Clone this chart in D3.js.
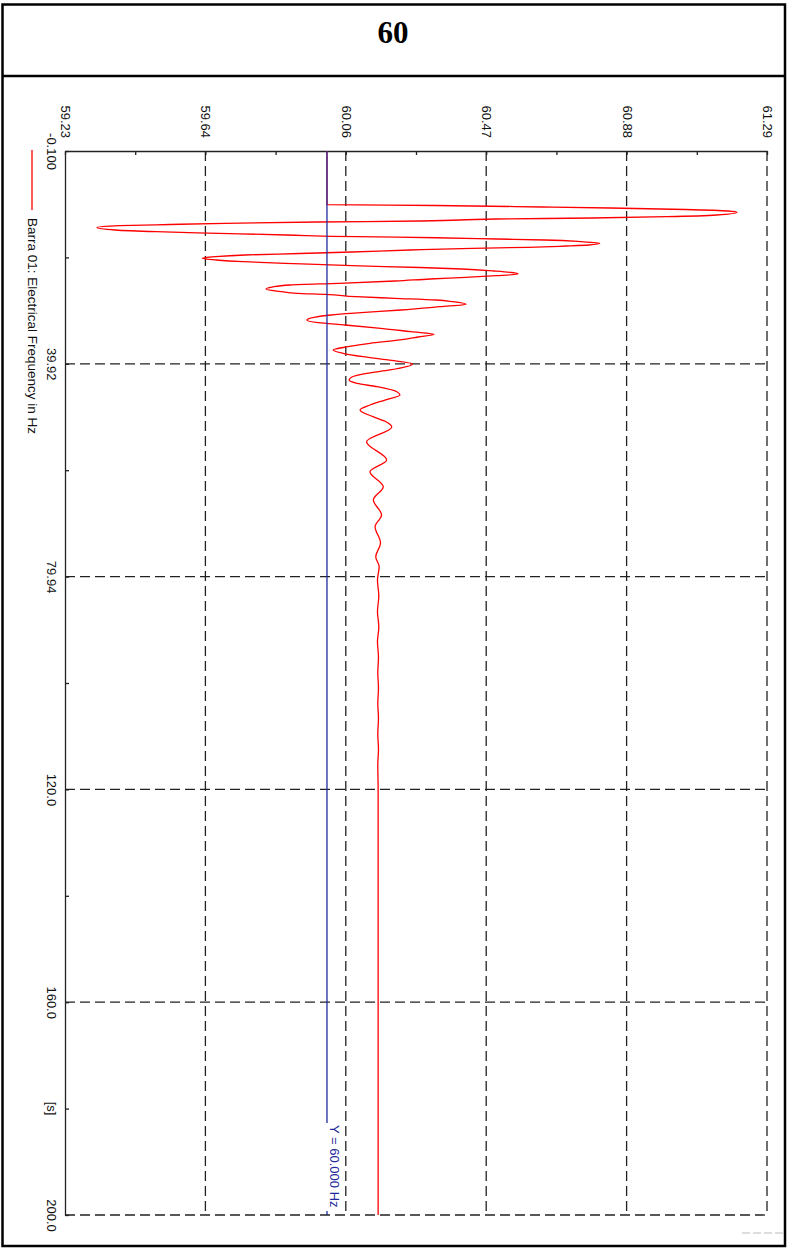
<!DOCTYPE html>
<html>
<head>
<meta charset="utf-8">
<script src="https://cdn.jsdelivr.net/npm/d3@7"></script>
<style>
  html, body { margin: 0; padding: 0; background: #fff; }
  svg { display: block; }
  text { font-family: Arial, "Liberation Sans", Helvetica, sans-serif; }
</style>
</head>
<body>
<svg id="chart" width="787" height="1249"></svg>
<script>
// Simulation time [s]
const times = [
  -0.1, 10.0, 10.15, 10.43, 10.62, 10.90, 11.18, 11.43, 11.94, 12.26, 12.50, 12.69,
  13.06, 13.25, 13.50, 13.72, 13.95, 14.29, 14.76, 15.08, 15.38, 15.70, 16.02, 16.21,
  16.45, 16.64, 16.96, 17.26, 17.58, 17.77, 18.01, 18.20, 18.52, 18.89, 19.18, 19.46,
  19.78, 20.08, 20.40, 20.72, 21.02, 21.47, 21.81, 22.09, 22.47, 22.75, 23.03, 23.35,
  23.65, 23.97, 24.35, 24.78, 25.10, 25.48, 25.85, 26.36, 26.66, 26.85, 27.30, 27.60,
  27.92, 28.24, 28.73, 29.18, 29.80, 30.31, 30.74, 31.17, 31.68, 32.19, 32.62, 33.24,
  33.88, 34.37, 34.88, 35.44, 36.06, 36.70, 37.32, 37.94, 38.58, 39.20, 39.96, 41.08,
  41.71, 42.40, 42.97, 43.59, 44.23, 45.17, 45.79, 46.73, 47.67, 48.61, 49.87, 50.81,
  51.80, 54.57, 58.01, 60.21, 63.03, 65.53, 68.35, 70.55, 73.62, 76.19, 78.08, 80.60,
  83.6, 86.5, 89.4, 92.2, 95.1, 98.0, 100.9, 103.8, 106.6, 109.5, 112.4, 115.3,
  120.0, 200.0
];

// Barra 01: electrical frequency [Hz]
const frequency = [
  60.000, 60.000, 60.317, 60.633, 60.830, 61.050, 61.176, 61.202, 61.143, 60.997, 60.777, 60.498,
  60.273, 59.971, 59.701, 59.540, 59.393, 59.326, 59.379, 59.499, 59.683, 59.880, 60.088, 60.320,
  60.498, 60.639, 60.748, 60.800, 60.768, 60.701, 60.589, 60.425, 60.243, 60.073, 59.921, 59.760,
  59.672, 59.634, 59.675, 59.754, 59.877, 60.073, 60.273, 60.396, 60.490, 60.542, 60.560, 60.496,
  60.408, 60.302, 60.199, 60.035, 59.892, 59.839, 59.821, 59.868, 59.912, 59.994, 60.085, 60.199,
  60.320, 60.369, 60.408, 60.331, 60.217, 60.100, 60.012, 59.962, 59.941, 59.974, 60.053, 60.158,
  60.246, 60.314, 60.267, 60.214, 60.126, 60.062, 60.018, 60.047, 60.106, 60.179, 60.251, 60.185,
  60.117, 60.073, 60.065, 60.088, 60.147, 60.205, 60.214, 60.170, 60.126, 60.097, 60.135, 60.173,
  60.190, 60.116, 60.175, 60.126, 60.165, 60.136, 60.160, 60.141, 60.157, 60.143, 60.153, 60.148,
  60.152, 60.148, 60.152, 60.148, 60.151, 60.149, 60.151, 60.149, 60.151, 60.149, 60.151, 60.149,
  60.150, 60.150
];

// Reference level
const refFrequency = 60.000;
const refLabel = "Y = 60.000 Hz";

// Frequency axis (drawn across the top)
const freqDomain = [59.232, 61.29];
const freqTicks  = [59.232, 59.6436, 60.0552, 60.4668, 60.8784, 61.29];
const freqLabels = ["59.23", "59.64", "60.06", "60.47", "60.88", "61.29"];

// Time axis (drawn down the left side)
const timeDomain = [-0.1, 200.0];
const timeTicks  = [-0.1, 39.92, 79.94, 119.96, 159.98, 200.0];
const timeLabels = ["-0.100", "39.92", "79.94", "120.0", "160.0", "200.0"];
const timeUnit   = "[s]";

const title = "60";
const legendLabel = "Barra 01: Electrical Frequency in Hz";

// ---------------------------------------------------------------
const svg = d3.select("#chart");
const W = 787, H = 1249;
const plot = { left: 65, top: 151, right: 767, bottom: 1215 };

const x = d3.scaleLinear().domain(freqDomain).range([plot.left, plot.right]);
const y = d3.scaleLinear().domain(timeDomain).range([plot.top, plot.bottom]);

const mid = arr => arr.slice(1).map((v, i) => (v + arr[i]) / 2);
const freqMinor = mid(freqTicks);
const timeMinor = mid(timeTicks);

// Page frame and title box
svg.append("rect")
  .attr("x", 2.5).attr("y", 4.5).attr("width", 782.5).attr("height", 1241.5)
  .attr("fill", "none").attr("stroke", "#000").attr("stroke-width", 2.5);
svg.append("line")
  .attr("x1", 2.5).attr("x2", 785).attr("y1", 76).attr("y2", 76)
  .attr("stroke", "#000").attr("stroke-width", 2.5);
svg.append("text")
  .attr("x", 393).attr("y", 43)
  .attr("text-anchor", "middle")
  .style("font-family", '"Times New Roman", "Liberation Serif", serif')
  .style("font-weight", "bold")
  .style("font-size", "31px")
  .text(title);

// Dashed grid
const gridColor = "#222";
const grid = svg.append("g")
  .attr("stroke", gridColor).attr("stroke-width", 1.3)
  .attr("stroke-dasharray", "10,5").attr("fill", "none");
grid.selectAll("line.v").data(freqTicks.slice(1)).join("line")
  .attr("class", "v")
  .attr("x1", d => x(d)).attr("x2", d => x(d))
  .attr("y1", plot.top).attr("y2", plot.bottom);
grid.selectAll("line.h").data(timeTicks.slice(1)).join("line")
  .attr("class", "h")
  .attr("x1", plot.left).attr("x2", plot.right)
  .attr("y1", d => y(d)).attr("y2", d => y(d));

// Axes
const styleAxis = g => {
  g.select(".domain").attr("stroke", "#222").attr("stroke-width", 1.3);
  g.selectAll(".tick line").attr("stroke", "#222").attr("stroke-width", 1.3);
};

const topAxis = svg.append("g")
  .attr("transform", `translate(0,${plot.top})`)
  .call(d3.axisTop(x).tickValues(freqTicks).tickSizeInner(-4).tickSizeOuter(0)
        .tickFormat((d, i) => freqLabels[i]))
  .call(styleAxis);
topAxis.selectAll(".tick text")
  .attr("x", null).attr("y", null).attr("dy", null)
  .attr("transform", "translate(0,-13) rotate(90)")
  .attr("text-anchor", "end")
  .attr("dominant-baseline", "central")
  .attr("fill", "#111")
  .style("font-size", "13px");

svg.append("g")
  .attr("transform", `translate(0,${plot.top})`)
  .call(d3.axisTop(x).tickValues(freqMinor).tickSize(-4).tickFormat(""))
  .call(styleAxis)
  .call(g => g.select(".domain").remove());

const leftAxis = svg.append("g")
  .attr("transform", `translate(${plot.left},0)`)
  .call(d3.axisLeft(y).tickValues(timeTicks).tickSizeInner(-4).tickSizeOuter(0)
        .tickFormat((d, i) => timeLabels[i]))
  .call(styleAxis);
leftAxis.selectAll(".tick text")
  .attr("x", null).attr("y", null).attr("dy", null)
  .attr("transform", "translate(-14,0) rotate(90)")
  .attr("text-anchor", "middle")
  .attr("dominant-baseline", "central")
  .attr("fill", "#111")
  .style("font-size", "13px");

svg.append("g")
  .attr("transform", `translate(${plot.left},0)`)
  .call(d3.axisLeft(y).tickValues(timeMinor).tickSize(-4).tickFormat(""))
  .call(styleAxis)
  .call(g => g.select(".domain").remove());

// Unit label next to the 180 s minor tick
svg.append("text")
  .attr("transform", `translate(${plot.left - 14},${y(timeMinor[4])}) rotate(90)`)
  .attr("text-anchor", "middle")
  .attr("dominant-baseline", "central")
  .attr("fill", "#111")
  .style("font-size", "13px")
  .text(timeUnit);

// Frequency trace
const series = times.map((t, i) => ({ t, f: frequency[i] }));
svg.append("path")
  .datum(series)
  .attr("fill", "none")
  .attr("stroke", "#ff0000")
  .attr("stroke-width", 1.3)
  .attr("stroke-linejoin", "round")
  .attr("d", d3.line().x(d => x(d.f)).y(d => y(d.t)).curve(d3.curveMonotoneY));

// Reference line at 60 Hz with its label
svg.append("line")
  .attr("x1", x(refFrequency)).attr("x2", x(refFrequency))
  .attr("y1", y(timeDomain[0])).attr("y2", y(timeDomain[1]))
  .attr("stroke", "#1f2a9c").attr("stroke-width", 1.3);
svg.append("rect")
  .attr("x", x(refFrequency) - 2).attr("y", 1123)
  .attr("width", 17).attr("height", 88)
  .attr("fill", "#fff");
svg.append("text")
  .attr("transform", `translate(${x(refFrequency) + 8},1125) rotate(90)`)
  .attr("text-anchor", "start")
  .attr("dominant-baseline", "central")
  .attr("fill", "#1f2a9c")
  .style("font-size", "13px")
  .text(refLabel);

// Legend
svg.append("line")
  .attr("x1", 32).attr("x2", 32).attr("y1", 150).attr("y2", 210)
  .attr("stroke", "#ff0000").attr("stroke-width", 1.3);
svg.append("text")
  .attr("transform", "translate(32,218) rotate(90)")
  .attr("text-anchor", "start")
  .attr("dominant-baseline", "central")
  .attr("fill", "#111")
  .style("font-size", "13.5px")
  .text(legendLabel);

// Faint mark in the lower right corner
svg.append("line")
  .attr("x1", 742).attr("x2", 784).attr("y1", 1233).attr("y2", 1233)
  .attr("stroke", "#bbb").attr("stroke-width", 1).attr("stroke-dasharray", "8,3");
</script>
</body>
</html>
